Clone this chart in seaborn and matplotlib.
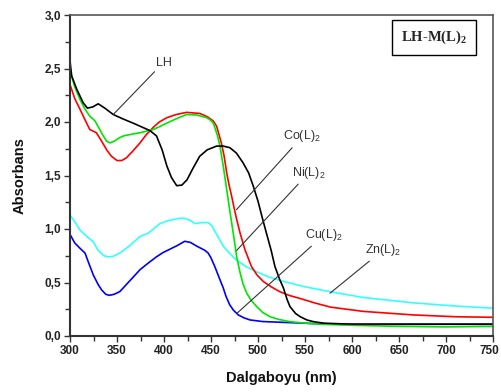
import numpy as np
import pandas as pd
import matplotlib
matplotlib.use("Agg")
import matplotlib.pyplot as plt
import matplotlib.transforms as mtransforms
import seaborn as sns
from matplotlib.ticker import MultipleLocator, FuncFormatter

# ---- data ----
lh_x = [300, 301.8, 307, 314, 318.5, 324, 330, 337, 346, 356, 367, 385, 392, 398, 403, 408, 413.5,
        419, 424.5, 431, 438, 446, 456, 463, 470, 477, 484, 490, 495, 500, 505, 509, 514, 518, 523,
        527, 531, 534, 540, 545, 552, 559, 570, 600, 650, 700, 750]
lh_y = [2.57, 2.43, 2.31, 2.18, 2.13, 2.14, 2.17, 2.13, 2.07, 2.03, 1.99, 1.92, 1.87, 1.74, 1.59, 1.48, 1.405,
        1.41, 1.46, 1.57, 1.68, 1.74, 1.775, 1.775, 1.76, 1.71, 1.62, 1.525, 1.40, 1.26, 1.09, 0.96, 0.80, 0.65, 0.53,
        0.45, 0.34, 0.275, 0.21, 0.18, 0.15, 0.134, 0.12, 0.11, 0.11, 0.11, 0.11]

co_x = [300, 305, 310.6, 316, 321, 328, 333, 339, 344, 350, 355, 360, 367, 374.5, 381, 388.6, 395, 403,
        413, 424, 438, 446, 452.4, 456, 461, 464, 466.7, 469, 472, 475, 477.3, 481, 486, 493, 499, 505.6,
        514, 523, 533, 545, 560, 577, 612, 665, 710, 750]
co_y = [2.35, 2.22, 2.12, 2.02, 1.93, 1.90, 1.83, 1.74, 1.68, 1.64, 1.64, 1.665, 1.73, 1.805, 1.88, 1.95, 2.00, 2.04,
        2.07, 2.09, 2.08, 2.05, 2.01, 1.96, 1.805, 1.68, 1.525, 1.42, 1.305, 1.18, 1.09, 0.96, 0.81, 0.65, 0.57, 0.51,
        0.46, 0.415, 0.38, 0.35, 0.31, 0.27, 0.23, 0.197, 0.18, 0.175]

ni_x = [300, 305, 310.6, 316, 321, 326.6, 331, 335.4, 339, 342.5, 347, 352, 357, 365, 374.5, 388.6, 396, 403,
        413, 424, 435, 445.4, 449, 452.4, 454, 457, 459.6, 463, 466.7, 470, 473.7, 477.3, 481, 484, 488, 493,
        498.6, 505, 512.8, 522, 534, 550, 569, 600, 650, 700, 750]
ni_y = [2.48, 2.33, 2.21, 2.12, 2.055, 2.01, 1.94, 1.87, 1.82, 1.805, 1.82, 1.85, 1.87, 1.885, 1.90, 1.93, 1.96, 1.99,
        2.03, 2.07, 2.065, 2.04, 2.02, 1.99, 1.95, 1.87, 1.77, 1.59, 1.37, 1.17, 0.96, 0.74, 0.59, 0.49, 0.40, 0.33,
        0.275, 0.22, 0.18, 0.155, 0.134, 0.12, 0.11, 0.10, 0.09, 0.085, 0.09]

cu_x = [300, 305, 310.6, 316, 320, 324.8, 330, 333.7, 338, 341.8, 347, 353, 363, 374.5, 383, 392, 399, 406,
        414, 422, 428, 434.8, 443.6, 447, 450, 454, 458, 463, 466, 470, 474, 479, 485, 491.5, 505, 534, 577,
        650, 750]
cu_y = [0.95, 0.87, 0.82, 0.775, 0.68, 0.57, 0.48, 0.43, 0.39, 0.38, 0.39, 0.415, 0.51, 0.62, 0.68, 0.74, 0.78, 0.81,
        0.845, 0.885, 0.875, 0.84, 0.80, 0.775, 0.73, 0.65, 0.56, 0.45, 0.37, 0.29, 0.24, 0.197, 0.17, 0.15, 0.135, 0.125, 0.11,
        0.11, 0.11]

zn_x = [300, 305, 310.6, 318, 324.8, 330, 336, 340.8, 346, 353, 363, 374.5, 383, 395.7, 405, 417, 422, 428,
        433, 440, 447, 451, 454, 458, 463, 470, 477, 487, 498.6, 512, 527, 550, 573, 612, 665, 710, 750]
zn_y = [1.13, 1.07, 0.99, 0.93, 0.88, 0.80, 0.75, 0.74, 0.745, 0.775, 0.84, 0.93, 0.96, 1.05, 1.08, 1.10, 1.10, 1.08,
        1.05, 1.06, 1.06, 1.03, 0.98, 0.92, 0.84, 0.77, 0.71, 0.65, 0.60, 0.55, 0.51, 0.46, 0.42, 0.36, 0.31, 0.28, 0.26]

series_names = ["LH", "Co(L)2", "Ni(L)2", "Cu(L)2", "Zn(L)2"]
series_colors = ["#000000", "#ff0000", "#00e600", "#0000ff", "#33ffff"]

frames = []
for name, xs, ys in zip(series_names, [lh_x, co_x, ni_x, cu_x, zn_x], [lh_y, co_y, ni_y, cu_y, zn_y]):
    frames.append(pd.DataFrame({"wl": xs, "abs": ys, "series": name}))
df = pd.concat(frames, ignore_index=True)

# ---- style ----
sns.set_theme(style="ticks")
plt.rcParams["font.family"] = ["Liberation Sans", "DejaVu Sans"]
plt.rcParams["mathtext.default"] = "regular"

fig = plt.figure(figsize=(5.01, 3.92), dpi=100)
ax = fig.add_axes([70 / 501, 1 - 336 / 392, (493 - 70) / 501, (336 - 15) / 392])

order = ["Zn(L)2", "Cu(L)2", "Co(L)2", "Ni(L)2", "LH"]
pal = dict(zip(series_names, series_colors))
for name in order:
    sub = df[df["series"] == name]
    sns.lineplot(data=sub, x="wl", y="abs", color=pal[name], lw=1.2, sort=False,
                 estimator=None, ax=ax, legend=False)

ax.set_xlim(300, 750)
ax.set_ylim(0, 3.0)
ax.xaxis.set_major_locator(MultipleLocator(50))
ax.xaxis.set_minor_locator(MultipleLocator(25))
ax.yaxis.set_major_locator(MultipleLocator(0.5))
ax.yaxis.set_minor_locator(MultipleLocator(0.25))
ax.yaxis.set_major_formatter(FuncFormatter(lambda v, p: f"{v:.1f}".replace(".", ",")))

for side in ["left", "bottom"]:
    ax.spines[side].set_color("#333333")
    ax.spines[side].set_linewidth(1.5)
for side in ["top", "right"]:
    ax.spines[side].set_color("#555555")
    ax.spines[side].set_linewidth(1.2)

ax.tick_params(axis="both", which="major", direction="out", length=4.5, width=1.0,
               color="#333333", labelsize=8.5, pad=2)
ax.tick_params(axis="both", which="minor", direction="out", length=3.5, width=1.0, color="#333333")
fig.canvas.draw()
xlabels = ax.get_xticklabels()
for lab in xlabels + ax.get_yticklabels():
    lab.set_fontweight("bold")
    lab.set_color("#222222")
# keep the last x tick label inside the figure
shift = mtransforms.ScaledTranslation(-4 / 100, 0, fig.dpi_scale_trans)
for lab in xlabels:
    if lab.get_text() == "750":
        lab.set_transform(lab.get_transform() + shift)

ax.set_xlabel("Dalgaboyu (nm)", fontsize=10.5, fontweight="bold", color="#111111", labelpad=10)
ax.set_ylabel("Absorbans", fontsize=10.5, fontweight="bold", color="#111111", labelpad=13)

# ---- annotations ----
ann_kw = dict(fontsize=9, color="#333333",
              arrowprops=dict(arrowstyle="-", color="#333333", lw=0.8, shrinkA=0, shrinkB=0))
ax.annotate("LH", xy=(346, 2.07), xytext=(391, 2.50), ha="left", va="bottom", **ann_kw)
ax.annotate("Co(L)$_2$", xy=(477, 1.18), xytext=(527, 1.79), ha="left", va="bottom", **ann_kw)
ax.annotate("Ni(L)$_2$", xy=(477.3, 0.80), xytext=(536, 1.45), ha="left", va="bottom", **ann_kw)
ax.annotate("Cu(L)$_2$", xy=(477.3, 0.21), xytext=(550, 0.87), ha="left", va="bottom", **ann_kw)
ax.annotate("Zn(L)$_2$", xy=(576.6, 0.40), xytext=(613.8, 0.73), ha="left", va="bottom", **ann_kw)

ax.text(0.861, 0.93, "LH-M(L)$_2$", transform=ax.transAxes, ha="center", va="center",
        fontsize=10.5, fontweight="bold", family=["Liberation Serif"],
        bbox=dict(boxstyle="square,pad=0.6", fc="white", ec="black", lw=1.0))

fig.savefig("out.png", dpi=100)
